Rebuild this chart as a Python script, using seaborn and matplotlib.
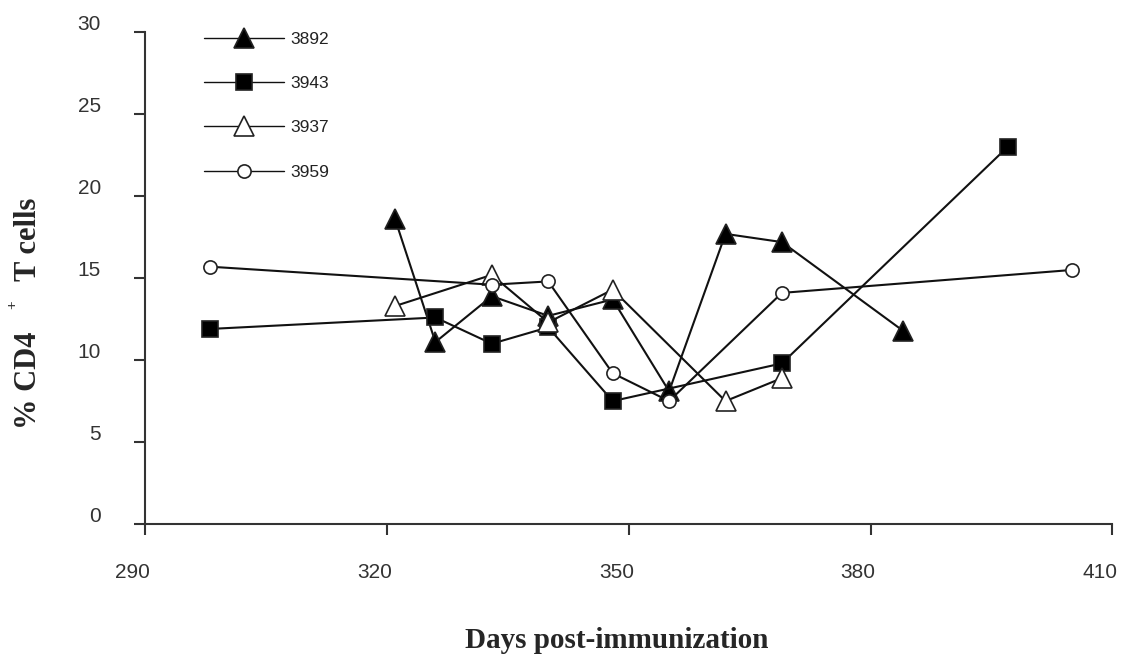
import matplotlib
matplotlib.use('Agg')
import matplotlib.pyplot as plt
import matplotlib.transforms as mtransforms
import numpy as np
import pandas as pd
import seaborn as sns

sns.set_theme(style='white')
plt.rcParams['font.family'] = ['Liberation Sans', 'DejaVu Sans']

# animal 3892 (filled triangle)
days_3892 = [321, 326, 333, 340, 348, 355, 362, 369, 384]
cd4_3892 = [18.6, 11.1, 13.9, 12.7, 13.7, 8.1, 17.7, 17.2, 11.8]
# animal 3943 (filled square)
days_3943 = [298, 326, 333, 340, 348, 369, 397]
cd4_3943 = [11.9, 12.6, 11.0, 12.0, 7.5, 9.8, 23.0]
# animal 3937 (open triangle)
days_3937 = [321, 333, 340, 348, 362, 369]
cd4_3937 = [13.3, 15.2, 12.3, 14.3, 7.5, 8.9]
# animal 3959 (open circle)
days_3959 = [298, 333, 340, 348, 355, 369, 405]
cd4_3959 = [15.7, 14.6, 14.8, 9.2, 7.5, 14.1, 15.5]

xticks = [290, 320, 350, 380, 410]
yticks = [0, 5, 10, 15, 20, 25, 30]

series = [
    ('3892', days_3892, cd4_3892, '^', 15, 'black'),
    ('3943', days_3943, cd4_3943, 's', 12, 'black'),
    ('3937', days_3937, cd4_3937, '^', 15, 'white'),
    ('3959', days_3959, cd4_3959, 'o', 9.5, 'white'),
]

fig = plt.figure(figsize=(11.28, 6.64), dpi=100)
ax = fig.add_axes([0.1288, 0.2108, 0.9861 - 0.1288, 0.9514 - 0.2108])

for name, d, v, mk, ms, fc in series:
    df = pd.DataFrame({'day': d, 'cd4': v})
    sns.lineplot(data=df, x='day', y='cd4', ax=ax, estimator=None, label=name,
                 color='#111111', linewidth=1.5, marker=mk, markersize=ms,
                 markerfacecolor=fc, markeredgecolor='#222222', markeredgewidth=1.2)

ax.set_xlim(290, 410)
ax.set_ylim(0, 30)
ax.set_xticks(xticks)
ax.set_yticks(yticks)
ax.set_xlabel('')
ax.set_ylabel('')
for side in ('top', 'right'):
    ax.spines[side].set_visible(False)
for side in ('left', 'bottom'):
    ax.spines[side].set_color('#333333')
    ax.spines[side].set_linewidth(1.5)
ax.tick_params(axis='both', direction='out', length=8, width=1.5, color='#333333',
               labelsize=15, labelcolor='#333333')
ax.tick_params(axis='y', pad=24, left=True)
ax.tick_params(axis='x', pad=20, bottom=True)

# labels sit slightly off the ticks in the source figure
for lab in ax.get_yticklabels():
    lab.set_transform(lab.get_transform() + mtransforms.ScaledTranslation(0, 7 / 72, fig.dpi_scale_trans))
for lab in ax.get_xticklabels():
    lab.set_transform(lab.get_transform() + mtransforms.ScaledTranslation(-9 / 72, 0, fig.dpi_scale_trans))

leg = ax.legend(loc='upper left', bbox_to_anchor=(204 / 1128, 1 - 32 / 664),
                bbox_transform=fig.transFigure, frameon=False, borderpad=0,
                borderaxespad=0, fontsize=12.5, handlelength=4.6, handletextpad=0.35,
                labelspacing=1.67, numpoints=1)
for t in leg.get_texts():
    t.set_color('#222222')
for h in leg.get_lines():
    h.set_linewidth(1.0)

serif = ['Liberation Serif', 'DejaVu Serif']
fig.text(617 / 1128, 1 - 640 / 664, 'Days post-immunization', ha='center', va='center',
         family=serif, fontweight='bold', fontsize=21)
# y label: "% CD4", superscript "+", "T cells" as in the source
fig.text(29 / 1128, 1 - 380 / 664, '% CD4', ha='center', va='center',
         rotation=90, family=serif, fontweight='bold', fontsize=22)
fig.text(13 / 1128, 1 - 305 / 664, '+', ha='center', va='center',
         rotation=90, family=serif, fontweight='bold', fontsize=11)
fig.text(29 / 1128, 1 - 239 / 664, 'T cells', ha='center', va='center',
         rotation=90, family=serif, fontweight='bold', fontsize=22)

fig.savefig('out.png', dpi=100)
